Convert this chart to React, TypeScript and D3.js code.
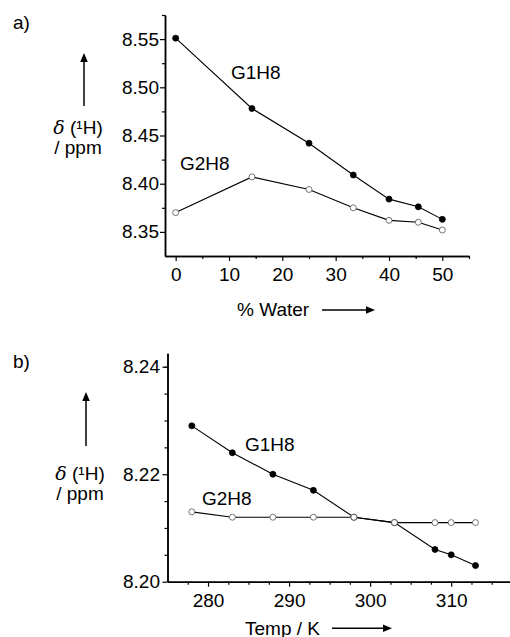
import React, { useEffect, useRef } from 'react';
import * as d3 from 'd3';

// panel a: shift vs % water
const waterPct = [0, 14.3, 25, 33.3, 40, 45.5, 50];
const waterG1 = [8.551, 8.478, 8.442, 8.409, 8.384, 8.376, 8.363];
const waterG2 = [8.370, 8.407, 8.394, 8.375, 8.362, 8.360, 8.352];
const waterTicks = [0, 10, 20, 30, 40, 50];
const waterYTicks = [8.35, 8.40, 8.45, 8.50, 8.55];

// panel b: shift vs temperature
const tempK = [278, 283, 288, 293, 298, 303, 308, 310, 313];
const tempG1 = [8.229, 8.224, 8.220, 8.217, 8.212, 8.211, 8.206, 8.205, 8.203];
const tempG2 = [8.213, 8.212, 8.212, 8.212, 8.212, 8.211, 8.211, 8.211, 8.211];
const tempTicks = [280, 290, 300, 310];
const tempYTicks = [8.20, 8.22, 8.24];

const FONT = 'Liberation Sans, Arial, sans-serif';
const FS = 19;

function drawArrow(g, x1, y1, x2, y2) {
  const ang = Math.atan2(y2 - y1, x2 - x1);
  const len = 9, half = 3.8;
  const bx = x2 - len * Math.cos(ang), by = y2 - len * Math.sin(ang);
  g.append('line')
    .attr('x1', x1).attr('y1', y1).attr('x2', bx).attr('y2', by)
    .attr('stroke', '#000').attr('stroke-width', 1.5);
  const px = -Math.sin(ang) * half, py = Math.cos(ang) * half;
  g.append('path')
    .attr('d', `M${x2},${y2}L${bx + px},${by + py}L${bx - px},${by - py}Z`)
    .attr('fill', '#000');
}

function drawPanel(svg, cfg) {
  const g = svg.append('g');
  const x = d3.scaleLinear().domain(cfg.xDomain).range(cfg.xRange);
  const y = d3.scaleLinear().domain(cfg.yDomain).range(cfg.yRange);
  const x0 = cfg.xRange[0], yb = cfg.yRange[0];

  // minor ticks first, then the labelled ones
  const minorX = d3.axisBottom(x).tickValues(cfg.xMinor).tickSize(3).tickSizeOuter(0).tickFormat(() => '');
  const minorY = d3.axisLeft(y).tickValues(cfg.yMinor).tickSize(3).tickSizeOuter(0).tickFormat(() => '');
  const majorX = d3.axisBottom(x).tickValues(cfg.xTicks).tickSize(5).tickSizeOuter(0).tickPadding(7)
    .tickFormat(d3.format('d'));
  const majorY = d3.axisLeft(y).tickValues(cfg.yTicks).tickSize(5).tickSizeOuter(0).tickPadding(cfg.yPad)
    .tickFormat(d3.format('.2f'));

  [minorX, majorX].forEach(ax => {
    g.append('g').attr('transform', `translate(0,${yb})`).call(ax);
  });
  [minorY, majorY].forEach(ax => {
    g.append('g').attr('transform', `translate(${x0},0)`).call(ax);
  });
  g.selectAll('.domain').attr('stroke-width', 1.5);
  g.selectAll('.tick line').attr('stroke-width', 1.2);
  g.selectAll('.tick text').attr('font-family', FONT).attr('font-size', FS).attr('fill', '#000');

  const line = d3.line().x(d => x(d[0])).y(d => y(d[1]));
  cfg.series.forEach(s => {
    const pts = cfg.xs.map((v, i) => [v, s.values[i]]);
    g.append('path').attr('d', line(pts)).attr('fill', 'none').attr('stroke', '#000').attr('stroke-width', 1.1);
    g.selectAll(null).data(pts).enter().append('circle')
      .attr('cx', d => x(d[0])).attr('cy', d => y(d[1])).attr('r', 3)
      .attr('fill', s.filled ? '#000' : '#fff')
      .attr('stroke', s.filled ? '#000' : '#555').attr('stroke-width', 0.8);
    g.append('text').attr('x', s.lx).attr('y', s.ly).text(s.name)
      .attr('font-family', FONT).attr('font-size', FS);
  });

  // panel letter
  g.append('text').attr('x', 13).attr('y', cfg.letterY).text(cfg.letter)
    .attr('font-family', FONT).attr('font-size', FS);

  // y title with upward arrow
  drawArrow(g, cfg.yArrowX, cfg.yArrowY[0], cfg.yArrowX, cfg.yArrowY[1]);
  const yt = g.append('text').attr('x', cfg.yLabelX).attr('y', cfg.yLabelY)
    .attr('text-anchor', 'middle').attr('font-family', FONT).attr('font-size', FS);
  yt.append('tspan').attr('font-style', 'italic').attr('font-family', 'DejaVu Serif, serif').text('δ');
  yt.append('tspan').text(' (¹H)');
  g.append('text').attr('x', cfg.yLabelX).attr('y', cfg.yLabelY + 20)
    .attr('text-anchor', 'middle').attr('font-family', FONT).attr('font-size', FS).text('/ ppm');

  // x title with right arrow
  g.append('text').attr('x', cfg.xLabelX).attr('y', cfg.xLabelY).text(cfg.xLabel)
    .attr('font-family', FONT).attr('font-size', FS);
  drawArrow(g, cfg.xArrow[0], cfg.xArrowY, cfg.xArrow[1], cfg.xArrowY);
}

export default function App() {
  const ref = useRef(null);

  useEffect(() => {
    const svg = d3.select(ref.current);
    svg.selectAll('*').remove();

    drawPanel(svg, {
      letter: 'a)', letterY: 29,
      xs: waterPct,
      xDomain: [-2, 55], xRange: [165, 469],
      yDomain: [8.325, 8.575], yRange: [256, 15],
      xTicks: waterTicks, xMinor: d3.range(5, 56, 10),
      yTicks: waterYTicks, yMinor: d3.range(8.375, 8.58, 0.05), yPad: 1,
      series: [
        { name: 'G1H8', values: waterG1, filled: true, lx: 231, ly: 79 },
        { name: 'G2H8', values: waterG2, filled: false, lx: 180, ly: 169.5 },
      ],
      yArrowX: 84, yArrowY: [106, 53], yLabelX: 78, yLabelY: 134,
      xLabel: '% Water', xLabelX: 237, xLabelY: 316, xArrow: [322, 375], xArrowY: 310,
    });

    drawPanel(svg, {
      letter: 'b)', letterY: 368,
      xs: tempK,
      xDomain: [275, 317.5], xRange: [167.5, 512],
      yDomain: [8.20, 8.2425], yRange: [581.7, 353.3],
      xTicks: tempTicks, xMinor: d3.range(277.5, 318, 2.5).filter(v => v % 10 !== 0),
      yTicks: tempYTicks, yMinor: d3.range(8.205, 8.241, 0.005).filter(v => Math.abs(v - 8.22) > 1e-6), yPad: 2.5,
      series: [
        { name: 'G1H8', values: tempG1, filled: true, lx: 245, ly: 450.6 },
        { name: 'G2H8', values: tempG2, filled: false, lx: 202, ly: 504.6 },
      ],
      yArrowX: 86, yArrowY: [446, 392], yLabelX: 80, yLabelY: 480,
      xLabel: 'Temp / K', xLabelX: 245, xLabelY: 634.5, xArrow: [332, 392], xArrowY: 628.3,
    });
  }, []);

  return (
    <svg ref={ref} width={510} height={637}
      style={{ position: 'absolute', left: 0, top: 0, background: '#fff' }} />
  );
}
